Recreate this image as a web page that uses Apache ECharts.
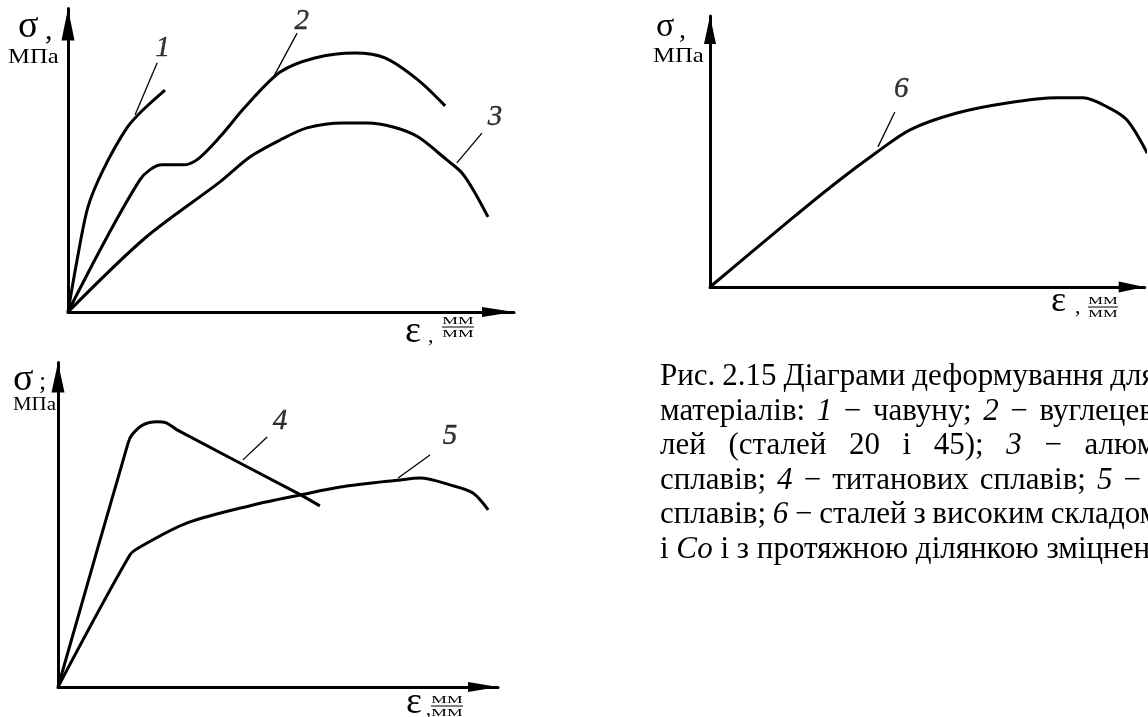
<!DOCTYPE html>
<html>
<head>
<meta charset="utf-8">
<script src="https://cdn.jsdelivr.net/npm/echarts@6/dist/echarts.min.js"></script>
<style>
  html, body { margin: 0; padding: 0; background: #ffffff; }
  #chart { width: 1148px; height: 717px; }
</style>
</head>
<body>
<div id="chart"></div>
<script>
// Stress–strain curves in relative units: [strain, stress].
const curve1 = [[0,0],[2.1,18.0],[4.6,36.3],[8.1,49.1],[13.6,63.7],[17.3,69.9],[22.4,76.8]];
const curve2 = [[0,0],[16.6,45.7],[21.7,50.9],[26.6,50.9],[30.0,52.9],[35.1,60.6],[40.9,70.9],[49.0,83.0],[57.0,87.9],[66.3,89.6],[73.2,87.9],[80.8,80.3],[87.1,71.3]];
const curve3 = [[0,0],[17.8,25.6],[35.1,45.0],[42.0,53.6],[49.0,59.5],[55.2,63.7],[63.5,65.4],[69.1,65.4],[75.1,64.0],[80.8,60.6],[87.5,52.6],[91.0,48.1],[94.0,41.2],[97.0,32.9]];
const curve4 = [[0,0],[16.5,79.0],[17.4,81.6],[20.0,84.8],[23.3,85.8],[25.6,85.4],[28.0,83.2],[56.2,62.8],[61.6,58.6]];
const curve5 = [[0,0],[16.9,42.7],[19.3,45.3],[30.4,53.1],[45.9,58.9],[56.9,62.1],[66.4,64.7],[80.5,67.0],[85.2,67.6],[92.2,65.4],[97.6,62.8],[101.2,57.3]];
const curve6 = [[0,0],[19.0,26.0],[30.1,40.7],[39.6,52.3],[47.4,60.9],[58.5,67.4],[70.4,71.3],[82.2,73.3],[88.4,73.3],[94.1,69.8],[98.8,64.7],[103.6,51.9]];

// Axis spans of the three diagrams (the arrows run a little past the curves)
const xMax = [103, 103.5, 103];
const yMax = [105, 105, 105];

// Curve numbers with their leader lines: [number, panel, leader start, leader end, number position]
const curveTags = [
  ['1', 0, [15.5, 68.2], [20.6, 86.2], [21.9, 91.3]],
  ['2', 0, [47.1, 80.3], [52.9, 96.5], [54.0, 100.7]],
  ['3', 0, [89.8, 51.6], [95.6, 61.9], [98.6, 67.5]],
  ['4', 1, [43.5, 73.5], [49.2, 80.9], [52.2, 86.1]],
  ['5', 1, [80.0, 67.6], [87.5, 75.1], [92.2, 81.2]],
  ['6', 2, [39.8, 54.3], [43.8, 67.8], [45.3, 76.4]]
];

const panelCurves = [
  [curve1, 0], [curve2, 0], [curve3, 0],
  [curve4, 1], [curve5, 1],
  [curve6, 2]
];

const SERIF = '"Liberation Serif", "Times New Roman", serif';

const grids = [
  { left: 68,  top: 8.5,   width: 446,   height: 303.5 },
  { left: 58,  top: 362.5, width: 440,   height: 324.5 },
  { left: 710, top: 16,    width: 434.7, height: 271 }
];
// arrow heads: [width across the axis, length along it]
const xArrow = [[10, 32], [10, 30], [11, 26]];
const yArrow = [[13, 32], [13, 30], [12, 28]];

function axis(i, dir) {
  const size = dir === 'x' ? xArrow[i] : yArrow[i];
  return {
    type: 'value', gridIndex: i, min: 0, max: dir === 'x' ? xMax[i] : yMax[i],
    axisLine: { show: true, onZero: false, symbol: ['none', 'triangle'], symbolSize: size,
                symbolOffset: [0, -size[1] / 2],
                lineStyle: { color: '#000', width: 3 } },
    axisTick: { show: false }, axisLabel: { show: false }, splitLine: { show: false }
  };
}

const series = [];
panelCurves.forEach(([data, g]) => {
  series.push({
    type: 'line', xAxisIndex: g, yAxisIndex: g, data: data,
    smooth: 0.3, symbol: 'none', clip: false, silent: true,
    lineStyle: { color: '#000', width: 3 }
  });
});
curveTags.forEach(([num, g, a, b, p]) => {
  series.push({
    type: 'line', xAxisIndex: g, yAxisIndex: g, data: [a, b],
    symbol: 'none', clip: false, silent: true,
    lineStyle: { color: '#000', width: 1.3 }
  });
  series.push({
    type: 'scatter', xAxisIndex: g, yAxisIndex: g, data: [p],
    symbolSize: 1, itemStyle: { color: 'rgba(0,0,0,0)' }, clip: false, silent: true,
    label: { show: true, position: 'inside', formatter: num, color: '#000',
             fontFamily: SERIF, fontStyle: 'italic', fontSize: 29,
             textBorderColor: '#000', textBorderWidth: 0.4 }
  });
});

function txt(text, x, y, size, opts) {
  opts = opts || {};
  return {
    type: 'text', x: x, y: y, scaleX: opts.sx || 1, scaleY: opts.sy || 1, silent: true,
    style: {
      text: text, x: 0, y: 0, fill: '#000',
      font: (opts.italic ? 'italic ' : '') + size + 'px ' + SERIF,
      textAlign: opts.align || 'left', align: opts.align || 'left',
      textVerticalAlign: 'middle', verticalAlign: 'middle'
    }
  };
}
function fraction(cx, cy, w, size, sx) {
  return [
    txt('ММ', cx, cy - 6, size, { align: 'center', sx: sx }),
    { type: 'line', silent: true, shape: { x1: cx - w / 2, y1: cy, x2: cx + w / 2, y2: cy },
      style: { stroke: '#000', lineWidth: 1 } },
    txt('ММ', cx, cy + 7, size, { align: 'center', sx: sx })
  ];
}

// Axis titles
const graphic = [
  // top-left diagram
  txt('σ', 18, 27, 38), txt(',', 45, 31, 30), txt('МПа', 8, 57, 22, { sx: 1.12 }),
  txt('ε', 405, 332, 38), txt(',', 428, 336, 22),
  ...fraction(458, 327, 32, 11, 1.6),
  // bottom-left diagram
  txt('σ', 13, 380, 38), txt(';', 39, 382, 26), txt('МПа', 13, 405, 19, { sx: 1.1 }),
  txt('ε', 406, 703, 38), txt(',', 426, 710, 20),
  ...fraction(447, 706, 32, 11, 1.6),
  // top-right diagram
  txt('σ', 656, 27, 34), txt(',', 679, 31, 28), txt('МПа', 653, 56, 22, { sx: 1.12 }),
  txt('ε', 1051, 302, 36), txt(',', 1075, 307, 22),
  ...fraction(1103, 307, 30, 11, 1.5)
];

// Caption: justified lines. Each line: words (italic ones flagged with 1) and
// the part of the last word that fits before the column edge at x = EDGE.
const CAP_SIZE = 31;
const CAP_LEFT = 660;
const EDGE = 1148;
const measure = document.createElement('canvas').getContext('2d');
function wordWidth(w, italic) {
  measure.font = (italic ? 'italic ' : '') + CAP_SIZE + 'px ' + SERIF;
  return measure.measureText(w).width;
}
const captionLines = [
  [[['Рис.'], ['2.15'], ['Діаграми'], ['деформування'], ['для']], 'дл', 'я', 0.45],
  [[['матеріалів:'], ['1', 1], ['−'], ['чавуну;'], ['2', 1], ['−'], ['вуглецевих']], 'вуглеце', 'в', 0.6],
  [[['лей'], ['(сталей'], ['20'], ['і'], ['45);'], ['3', 1], ['−'], ['алюмінієвих']], 'алю', 'м', 0.55],
  [[['сплавів;'], ['4', 1], ['−'], ['титанових'], ['сплавів;'], ['5', 1], ['−']], '', '−', 1.4],
  [[['сплавів;'], ['6', 1], ['−'], ['сталей'], ['з'], ['високим'], ['складом']], 'складо', 'м', 0.4]
];
const LINE_Y0 = 377, LINE_STEP = 34.5;
captionLines.forEach(([words, prefix, cutChar, cutPart], li) => {
  const lastStart = EDGE - wordWidth(prefix) - cutPart * wordWidth(cutChar);
  let used = 0;
  for (let k = 0; k < words.length - 1; k++) used += wordWidth(words[k][0], words[k][1]);
  const gap = (lastStart - CAP_LEFT - used) / (words.length - 1);
  let x = CAP_LEFT;
  words.forEach(([w, it], k) => {
    const px = k === words.length - 1 ? lastStart : x;
    graphic.push(txt(w, px, LINE_Y0 + li * LINE_STEP, CAP_SIZE, { italic: !!it }));
    x += wordWidth(w, it) + gap;
  });
});
graphic.push({
  type: 'text', x: CAP_LEFT, y: LINE_Y0 + 5 * LINE_STEP, silent: true,
  style: {
    text: '{n|і }{i|Со}{n| і з протяжною ділянкою зміцнення}',
    x: 0, y: 0, fill: '#000', font: CAP_SIZE + 'px ' + SERIF,
    textVerticalAlign: 'middle', verticalAlign: 'middle',
    rich: {
      n: { fontFamily: SERIF, fontSize: CAP_SIZE, color: '#000' },
      i: { fontFamily: SERIF, fontSize: CAP_SIZE, fontStyle: 'italic', color: '#000' }
    }
  }
});

const chart = echarts.init(document.getElementById('chart'), null, { renderer: 'canvas' });
chart.setOption({
  backgroundColor: '#ffffff',
  animation: false,
  grid: grids,
  xAxis: [axis(0, 'x'), axis(1, 'x'), axis(2, 'x')],
  yAxis: [axis(0, 'y'), axis(1, 'y'), axis(2, 'y')],
  series: series,
  graphic: graphic
});
</script>
</body>
</html>
